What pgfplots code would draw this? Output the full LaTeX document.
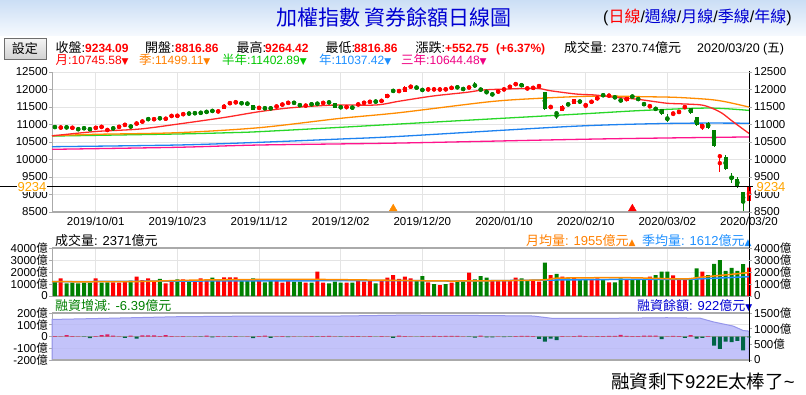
\documentclass[border=0pt]{standalone}
\usepackage{fontspec}
\setmainfont{Liberation Sans}
\newfontfamily\cjk{Noto Sans CJK TC}
\newfontfamily\sym{DejaVu Sans}
\usepackage{pgfplots}
\usepackage{pgfplotstable}
\pgfplotsset{compat=1.18}
\definecolor{cRed}{RGB}{255,0,0}
\definecolor{cGreen}{RGB}{0,128,0}
\definecolor{axgray}{RGB}{170,170,170}
\definecolor{gridgray}{RGB}{228,228,228}
\definecolor{maRed}{RGB}{255,40,40}
\definecolor{maOrange}{RGB}{255,140,0}
\definecolor{maGreen}{RGB}{40,215,40}
\definecolor{maBlue}{RGB}{30,130,240}
\definecolor{maPink}{RGB}{255,20,140}
\definecolor{tOrange}{RGB}{255,128,0}
\definecolor{tGreen}{RGB}{0,200,0}
\definecolor{tBlue}{RGB}{30,144,255}
\definecolor{tPink}{RGB}{240,0,130}
\definecolor{titleBlue}{RGB}{0,0,210}
\definecolor{numOrange}{RGB}{255,165,0}
\definecolor{fillLav}{RGB}{181,181,249}
\definecolor{lineLav}{RGB}{150,150,235}
\definecolor{mgRed}{RGB}{220,30,100}
\definecolor{mgGreen}{RGB}{0,100,70}
\newcommand\cj[1]{{\cjk #1}}
\newcommand\tf{\fontsize{11.5}{12}\selectfont}

% candles: close >= open
\pgfplotstableread{
i o h l c
1 10905 10935 10895 10920
3 10898 10925 10890 10912
7 10860 10960 10850 10950
8 10925 10950 10915 10940
9 10835 10865 10825 10850
11 10925 10950 10915 10940
12 10980 11010 10970 11000
14 11015 11050 11005 11040
15 11075 11105 11065 11095
17 11145 11170 11135 11158
19 11158 11180 11150 11170
20 11235 11265 11225 11255
21 11240 11270 11230 11258
22 11285 11315 11275 11305
28 11368 11390 11360 11380
29 11455 11575 11445 11565
30 11600 11630 11590 11620
31 11625 11660 11615 11638
35 11465 11495 11455 11485
38 11505 11535 11495 11525
39 11560 11590 11550 11580
40 11610 11640 11600 11628
43 11530 11558 11520 11548
46 11610 11635 11600 11625
50 11488 11515 11478 11505
52 11565 11592 11555 11582
53 11612 11638 11605 11628
54 11640 11665 11632 11655
56 11665 11695 11655 11685
57 11770 11870 11760 11860
59 11948 11975 11940 11960
60 11940 12090 11930 12075
61 12070 12100 12060 12088
64 11995 12020 11985 12010
65 11998 12020 11988 12010
66 11995 12018 11985 12008
67 11998 12022 11990 12010
68 12040 12065 12030 12055
71 12015 12110 12005 12100
76 11895 11995 11885 11985
77 11995 12025 11985 12010
78 12070 12095 12060 12085
79 12145 12175 12135 12160
81 12022 12050 12012 12040
82 12040 12065 12030 12055
83 12088 12118 12078 12105
85 11500 11560 11430 11510
87 11390 11545 11380 11535
89 11590 11740 11580 11725
91 11530 11595 11475 11585
92 11640 11670 11630 11658
93 11700 11805 11690 11795
95 11818 11845 11805 11828
98 11672 11790 11660 11777
102 11522 11565 11470 11532
106 11310 11345 11260 11325
107 11358 11390 11320 11370
108 11465 11540 11455 11528
111 10910 11015 10843 11005
114 10060 10150 9640 10128
119 8816.86 9264.42 8816.86 9234.09
}\upC
% candles: close < open
\pgfplotstableread{
i o h l c
0 10935 10950 10905 10920
2 10925 10940 10895 10912
4 10875 10890 10840 10860
5 10900 10915 10870 10885
6 10905 10915 10815 10830
10 10900 10910 10865 10885
13 10990 11000 10885 10895
16 11160 11175 11130 11148
18 11185 11200 11155 11172
23 11320 11330 11295 11308
24 11330 11340 11305 11318
25 11338 11355 11315 11328
26 11365 11380 11340 11355
27 11395 11410 11365 11382
32 11615 11630 11585 11603
33 11605 11615 11575 11592
34 11555 11565 11410 11420
36 11472 11485 11440 11460
37 11470 11480 11440 11460
41 11625 11640 11600 11615
42 11560 11570 11530 11548
44 11585 11595 11560 11572
45 11600 11612 11575 11590
47 11638 11650 11615 11628
48 11605 11615 11475 11485
49 11500 11512 11470 11490
51 11490 11500 11462 11478
55 11660 11675 11635 11650
58 11965 11990 11935 11952
62 12060 12075 12035 12048
63 11995 12005 11965 11982
69 12068 12080 12045 12058
70 12022 12030 11995 12010
72 12118 12205 12034 12108
73 12035 12045 11950 11960
74 11945 11975 11865 11930
75 11870 11900 11820 11855
80 12160 12175 12075 12085
84 11920 11925 11420 11434
86 11330 11360 11150 11315
88 11585 11605 11540 11572
90 11700 11710 11600 11610
94 11842 11860 11815 11830
96 11785 11795 11755 11772
97 11720 11730 11645 11655
99 11805 11830 11770 11790
100 11750 11765 11690 11705
101 11625 11635 11530 11540
103 11480 11490 11405 11415
104 11445 11455 11280 11292
105 11165 11290 11060 11150
109 11465 11475 11310 11322
110 11205 11215 10955 10977
112 11035 11085 10880 10893
113 10843 10855 10350 10400
115 10060 10130 9700 9718
116 9530 9605 9337 9439
117 9443 9500 9200 9218
118 9060 9070 8523 8760
}\dnC
% volume (100 million NTD), up days
\pgfplotstableread{
i v
1 1470
7 1470
10 1140
11 1110
12 1250
14 1610
15 1330
16 1470
17 1190
19 1055
20 1190
22 1390
24 1250
25 1470
26 1250
28 1250
29 1555
30 1555
31 1555
35 1330
38 1280
39 1110
40 1250
43 1110
45 2030
46 1110
50 1110
52 1280
53 1190
54 1250
56 1250
57 1530
58 1750
59 1420
60 1610
61 1470
64 1140
66 917
68 1110
71 1945
75 1330
76 1280
77 1330
78 1330
79 1530
82 1330
83 1190
85 1750
87 1610
89 1530
92 1330
93 1470
95 1140
98 1330
102 1610
106 1725
107 1330
108 1330
111 2030
119 2371
}\volUp
% volume, down days
\pgfplotstableread{
i v
0 1190
2 1055
3 1110
4 1055
5 1110
6 1110
8 1110
9 1140
13 1280
18 1420
21 1390
23 1190
27 1530
32 1330
33 1280
34 1470
36 1140
37 1280
41 1190
42 1190
44 1110
47 1055
48 1190
49 1110
51 1110
55 1055
62 1280
63 1665
65 1000
67 1000
69 1280
70 1190
72 1390
73 1665
74 1530
80 1470
81 1330
84 2780
86 1835
88 1470
90 1330
91 1330
94 1390
96 1140
97 1470
99 1330
100 1330
101 1390
103 1750
104 2030
105 2030
109 1470
110 2300
112 1750
113 2670
114 3000
115 2100
116 2350
117 2100
118 2650
}\volDn
% margin change, increases
\pgfplotstableread{
i v
0 3
1 2
2 11
3 3
4 2
7 3
8 12
9 18
10 8
11 2
13 8
15 10
16 10
17 10
18 3
19 12
20 4
21 2
22 3
24 2
26 8
28 3
29 2
31 3
33 2
35 3
36 8
38 2
39 3
41 2
43 2
44 3
46 3
47 6
48 2
50 2
51 3
52 3
53 2
54 3
56 3
57 2
59 8
60 3
61 2
63 3
64 2
65 6
66 3
67 6
68 5
69 5
70 2
73 8
76 2
79 3
80 5
81 5
82 3
87 3
88 2
89 4
90 8
91 3
92 2
93 3
94 4
95 6
96 5
97 14
98 5
99 3
100 4
101 8
102 8
103 8
105 2
106 6
107 3
109 11
112 3
}\mgUp
% margin change, decreases
\pgfplotstableread{
i v
5 -3
6 -14
12 -12
14 -17
23 -2
25 -3
27 -8
30 -3
32 -2
34 -14
37 -12
40 -6
42 -2
45 -3
49 -3
55 -2
58 -12
62 -2
71 -3
72 -10
74 -8
75 -8
77 -5
78 -4
83 -20
84 -43
85 -17
86 -31
104 -23
108 -11
110 -17
111 -11
113 -77
114 -105
115 -43
116 -48
117 -37
118 -119
119 -6.39
}\mgDn
% margin balance
\pgfplotstableread{
i v
-0.5 1294
7.7 1326
20.9 1381
35 1404
48.8 1404
59.1 1430
70 1425
82 1404
85.4 1326
93.4 1326
104.9 1349
110.6 1335
112.8 1220
116.3 1082
118 941
119 922
}\mgBal

\pgfplotsset{
  panel/.style={scale only axis, width=697pt, xmin=-0.5, xmax=119,
    xtick={7,21,35,49,63,77,91,105,119},
    scaled y ticks=false, scaled x ticks=false,
    tick align=outside, major tick length=3pt,
    xtick style={draw=none}, ytick style={draw=axgray, line width=0.8pt},
    ticklabel style={font=\tf, inner sep=1pt},
    major grid style={gridgray, line width=1pt}},
  wick/.style={color=#1, only marks, mark=none, forget plot,
    error bars/.cd, y dir=both, y explicit, error mark=none,
    error bar style={color=#1, solid, line width=1pt}},
  body/.style={color=#1, only marks, mark=none, forget plot,
    error bars/.cd, y dir=both, y explicit, error mark=none,
    error bar style={color=#1, solid, line width=4pt}},
}

\begin{document}
\begin{tikzpicture}
\useasboundingbox (0pt,0pt) rectangle (806pt,-394pt);
\fill[white] (0pt,0pt) rectangle (806pt,-394pt);
\shade[top color={rgb,255:red,203;green,222;blue,245}, bottom color={rgb,255:red,245;green,249;blue,254}] (0pt,0pt) rectangle (806pt,-35pt);

% title
\node[anchor=center, text=titleBlue, inner sep=0pt] at (394pt,-17pt) {\cjk\fontsize{21}{21}\selectfont 加權指數 資券餘額日線圖};
\node[anchor=west, inner sep=0pt] at (603pt,-17pt) {\fontsize{16}{16}\selectfont (\textcolor{red}{\cj{日線}}/\textcolor{titleBlue}{\cj{週線}}/\textcolor{titleBlue}{\cj{月線}}/\textcolor{titleBlue}{\cj{季線}}/\textcolor{titleBlue}{\cj{年線}})};

% settings button
\shade[top color={rgb,255:red,245;green,245;blue,245}, bottom color={rgb,255:red,210;green,210;blue,210}, draw={rgb,255:red,110;green,110;blue,110}] (4pt,-38pt) rectangle (46pt,-59pt);
\node[anchor=center, inner sep=0pt] at (25pt,-48.5pt) {\cjk\fontsize{13}{13}\selectfont 設定};

% info row 1
\begin{scope}[every node/.style={anchor=base west, inner sep=0pt}]
\node at (55.5pt,-52.5pt) {\fontsize{13}{13}\selectfont\cj{收盤}:};
\node[text=cRed] at (85pt,-52.5pt) {\fontsize{12}{12}\selectfont\bfseries 9234.09};
\node at (145pt,-52.5pt) {\fontsize{13}{13}\selectfont\cj{開盤}:};
\node[text=cRed] at (175pt,-52.5pt) {\fontsize{12}{12}\selectfont\bfseries 8816.86};
\node at (236.5pt,-52.5pt) {\fontsize{13}{13}\selectfont\cj{最高}:};
\node[text=cRed] at (265pt,-52.5pt) {\fontsize{12}{12}\selectfont\bfseries 9264.42};
\node at (325.5pt,-52.5pt) {\fontsize{13}{13}\selectfont\cj{最低}:};
\node[text=cRed] at (354pt,-52.5pt) {\fontsize{12}{12}\selectfont\bfseries 8816.86};
\node at (415.5pt,-52.5pt) {\fontsize{13}{13}\selectfont\cj{漲跌}:};
\node[text=cRed] at (445pt,-52.5pt) {\fontsize{12}{12}\selectfont\bfseries +552.75};
\node[text=cRed] at (496pt,-52.5pt) {\fontsize{12}{12}\selectfont\bfseries (+6.37\%)};
\node at (564pt,-52.5pt) {\fontsize{13}{13}\selectfont\cj{成交量}: \fontsize{12}{12}\selectfont 2370.74\fontsize{13}{13}\selectfont\cj{億元}};
\node at (697pt,-52.5pt) {\fontsize{12.5}{13}\selectfont 2020/03/20 (\cj{五})};
% row 2
\node[text=cRed] at (55.5pt,-64.5pt) {\fontsize{12.5}{13}\selectfont\cj{月}:\fontsize{12}{12}\selectfont 10745.58{\sym\fontsize{9}{9}\selectfont ▼}};
\node[text=tOrange] at (139pt,-64.5pt) {\fontsize{12.5}{13}\selectfont\cj{季}:\fontsize{12}{12}\selectfont 11499.11{\sym\fontsize{9}{9}\selectfont ▼}};
\node[text=tGreen] at (222pt,-64.5pt) {\fontsize{12.5}{13}\selectfont\cj{半年}:\fontsize{12}{12}\selectfont 11402.89{\sym\fontsize{9}{9}\selectfont ▼}};
\node[text=tBlue] at (319pt,-64.5pt) {\fontsize{12.5}{13}\selectfont\cj{年}:\fontsize{12}{12}\selectfont 11037.42{\sym\fontsize{9}{9}\selectfont ▼}};
\node[text=tPink] at (401pt,-64.5pt) {\fontsize{12.5}{13}\selectfont\cj{三年}:\fontsize{12}{12}\selectfont 10644.48{\sym\fontsize{9}{9}\selectfont ▼}};
% panel titles
\node at (55pt,-245pt) {\fontsize{13}{13}\selectfont\cj{成交量}: 2371\cj{億元}};
\node[text=tOrange] at (526pt,-245pt) {\fontsize{13}{13}\selectfont\cj{月均量}: 1955\cj{億元}{\sym\fontsize{9}{9}\selectfont ▲}};
\node[text=tBlue] at (642pt,-245pt) {\fontsize{13}{13}\selectfont\cj{季均量}: 1612\cj{億元}{\sym\fontsize{9}{9}\selectfont ▲}};
\node[text=cGreen] at (55pt,-310pt) {\fontsize{13}{13}\selectfont\cj{融資增減}: -6.39\cj{億元}};
\node[text=titleBlue] at (637pt,-310pt) {\fontsize{13}{13}\selectfont\cj{融資餘額}: 922\cj{億元}{\sym\fontsize{9}{9}\selectfont ▼}};
\node at (611pt,-388pt) {\fontsize{18.5}{19}\selectfont\cj{融資剩下}922E\cj{太棒了}\textasciitilde};
\end{scope}

% ===== main price panel =====
\begin{axis}[panel, at={(52pt,-212pt)}, anchor=south west, height=140pt,
  ymin=8500, ymax=12500, clip=false,
  axis x line*=bottom, axis y line*=left,
  x axis line style={draw=axgray, line width=2pt, -},
  y axis line style={draw=axgray, line width=1pt, -},
  xticklabels={2019/10/01,2019/10/23,2019/11/12,2019/12/02,2019/12/20,2020/01/10,2020/02/10,2020/03/02,2020/03/20},
  ytick={8500,9000,9500,10000,10500,11000,11500,12000,12500},
  yticklabels={8500,9000,9500,10000,10500,11000,11500,12000,12500},
  xticklabel style={yshift=-1pt},
  grid=major]
% moving averages
\addplot[maPink, line width=1.3pt, smooth] coordinates {(-0.5,10291)(21,10349)(35,10414)(59,10470)(93,10586)(119,10644.48)};
\addplot[maBlue, line width=1.3pt, smooth] coordinates {(-0.5,10366)(21,10414)(35,10491)(49,10586)(59,10660)(89,10950)(106.3,11034)(119,11037.42)};
\addplot[maGreen, line width=1.3pt, smooth] coordinates {(-0.5,10670)(21,10729)(30,10766)(35,10795)(49,10920)(59,11014)(90,11300)(100.6,11400)(112,11470)(119,11402.89)};
\addplot[maOrange, line width=1.3pt, smooth] coordinates {(-0.5,10680)(7,10720)(21,10766)(35,10909)(49,11177)(59,11337)(74.6,11652)(83.1,11749)(90,11800)(94.8,11814)(100.6,11795)(106.3,11777)(112,11719)(114.9,11652)(119,11499.11)};
\addplot[maRed, line width=1.3pt, smooth] coordinates {(-0.5,10675)(7,10800)(14.5,10870)(21,11010)(29,11200)(35,11366)(40.6,11480)(48,11557)(55,11557)(59,11665)(64.8,11814)(70.6,11919)(73.4,11986)(77.4,12014)(82.6,12034)(84.9,11966)(89.4,11870)(92.6,11843)(96,11777)(99.5,11729)(102.9,11652)(105.1,11605)(108,11586)(110.9,11557)(112.7,11463)(114.4,11320)(116.1,11100)(117.8,10891)(119,10745.58)};
% candles
\addplot[wick=cRed] table[x=i, y expr={(\thisrow{h}+\thisrow{l})/2}, y error expr={(\thisrow{h}-\thisrow{l})/2}] {\upC};
\addplot[body=cRed] table[x=i, y expr={(\thisrow{o}+\thisrow{c})/2}, y error expr={max(abs(\thisrow{c}-\thisrow{o})/2,12)}] {\upC};
\addplot[wick=cGreen] table[x=i, y expr={(\thisrow{h}+\thisrow{l})/2}, y error expr={(\thisrow{h}-\thisrow{l})/2}] {\dnC};
\addplot[body=cGreen] table[x=i, y expr={(\thisrow{o}+\thisrow{c})/2}, y error expr={max(abs(\thisrow{c}-\thisrow{o})/2,12)}] {\dnC};
% close line, markers, cursor
\addplot[black, line width=1pt] coordinates {(-9.47,9234.09)(119.6,9234.09)};
\addplot[black, line width=1pt] coordinates {(119,12530)(119,7840)};
\addplot[only marks, mark=triangle*, mark size=4.5pt, color=maOrange] coordinates {(58,8595)};
\addplot[only marks, mark=triangle*, mark size=4.5pt, color=cRed] coordinates {(99,8595)};
\end{axis}
\begin{axis}[panel, at={(52pt,-212pt)}, anchor=south west, height=140pt,
  ymin=8500, ymax=12500, axis x line=none, axis y line*=right,
  y axis line style={draw=none},
  ytick={8500,9000,9500,10000,10500,11000,11500,12000,12500},
  yticklabels={8500,9000,9500,10000,10500,11000,11500,12000,12500},
  yticklabel style={xshift=1pt}]
\addplot[draw=none] coordinates {(0,9000)};
\end{axis}

% ===== volume panel =====
\begin{axis}[panel, at={(52pt,-296pt)}, anchor=south west, height=48pt,
  ymin=0, ymax=4000, clip=false,
  axis x line*=box, axis y line*=left,
  x axis line style={draw=axgray, line width=2pt, -},
  y axis line style={draw=axgray, line width=1pt, -},
  xticklabels={,,,,,,,,},
  ytick={0,1000,2000,3000,4000},
  yticklabels={0,1000\cj{億},2000\cj{億},3000\cj{億},4000\cj{億}},
  grid=major]
\addplot[ybar, bar width=4pt, bar shift=0pt, fill=cRed, draw=none] table[x=i, y=v] {\volUp};
\addplot[ybar, bar width=4pt, bar shift=0pt, fill=cGreen, draw=none] table[x=i, y=v] {\volDn};
\addplot[tBlue, line width=1.5pt, smooth] coordinates {(-0.5,1190)(25,1250)(59,1280)(69,1250)(85,1330)(99,1390)(108,1390)(113,1480)(119,1612)};
\addplot[maOrange, line width=1.5pt, smooth] coordinates {(-0.5,1190)(13,1200)(25,1330)(42,1390)(59,1300)(69,1250)(83,1330)(86,1480)(92,1520)(99,1520)(107.7,1420)(110.6,1560)(115,1760)(119,1955)};
\addplot[black, line width=1pt] coordinates {(119,5100)(119,-1420)};
\end{axis}
\begin{axis}[panel, at={(52pt,-296pt)}, anchor=south west, height=48pt,
  ymin=0, ymax=4000, axis x line=none, axis y line*=right,
  y axis line style={draw=none},
  ytick={0,1000,2000,3000,4000},
  yticklabels={0,1000\cj{億},2000\cj{億},3000\cj{億},4000\cj{億}},
  yticklabel style={xshift=1pt}]
\addplot[draw=none] coordinates {(0,1000)};
\end{axis}

% ===== margin panel =====
\begin{axis}[panel, at={(52pt,-360pt)}, anchor=south west, height=47pt,
  ymin=-200, ymax=200,
  axis x line=none, axis y line*=left,
  y axis line style={draw=axgray, line width=1pt, -},
  ytick={-200,-100,0,100,200},
  yticklabels={-200\cj{億},-100\cj{億},0,100\cj{億},200\cj{億}},
  grid=major]
\addplot[draw=none] coordinates {(0,0)};
\end{axis}
\begin{axis}[panel, at={(52pt,-360pt)}, anchor=south west, height=47pt,
  ymin=0, ymax=1500, clip=false,
  axis x line=none, axis y line*=right,
  y axis line style={draw=none},
  ytick={0,500,1000,1500},
  yticklabels={0,500\cj{億},1000\cj{億},1500\cj{億}},
  yticklabel style={xshift=1pt}]
\addplot[fill=fillLav, fill opacity=0.8, draw=lineLav, line width=1pt] table[x=i, y=v] {\mgBal} \closedcycle;
\addplot[black, line width=1pt] coordinates {(119,1500)(119,-70)};
\end{axis}
\begin{axis}[panel, at={(52pt,-360pt)}, anchor=south west, height=47pt,
  ymin=-200, ymax=200, clip=false,
  axis x line*=box, axis y line=none,
  x axis line style={draw=axgray, line width=2pt, -},
  xticklabels={,,,,,,,,}, ytick=\empty]
\addplot[gray!70, line width=0.6pt] coordinates {(-0.5,0)(119,0)};
\addplot[ybar, bar width=4pt, bar shift=0pt, fill=mgRed, draw=none] table[x=i, y=v] {\mgUp};
\addplot[ybar, bar width=4pt, bar shift=0pt, fill=mgGreen, draw=none] table[x=i, y=v] {\mgDn};
\end{axis}

% last-close labels on top of the price axis labels
\node[text=numOrange, fill=white, inner sep=0.5pt, font=\fontsize{13}{13}\selectfont] at (32pt,-187pt) {9234};
\node[text=numOrange, fill=white, inner sep=0.5pt, font=\fontsize{13}{13}\selectfont] at (771pt,-187pt) {9234};
\end{tikzpicture}
\end{document}
